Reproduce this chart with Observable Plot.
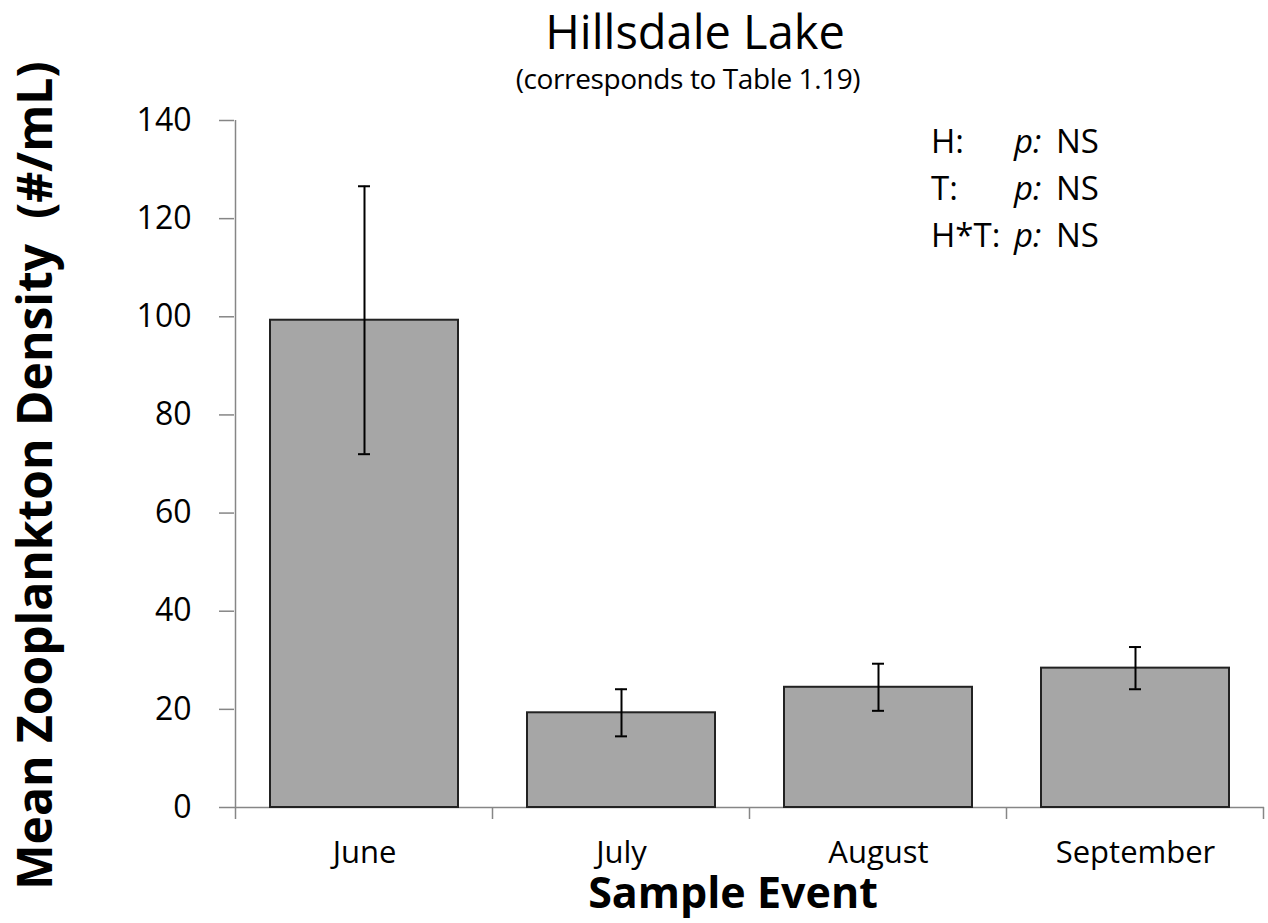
<!DOCTYPE html>
<html><head><meta charset="utf-8">
<script src="https://cdn.jsdelivr.net/npm/d3@7"></script>
<script src="https://cdn.jsdelivr.net/npm/@observablehq/plot@0.6"></script>
<style>
body{margin:0;background:#fff;}
#wrap{position:relative;width:1268px;height:923px;font-family:"Open Sans",sans-serif;color:#000;}
.ttl{position:absolute;left:0;width:1268px;text-align:center;white-space:pre;}
</style></head><body>
<div id="wrap">
<div id="chart"></div>
<div class="ttl" id="t1" style="top:8px;font-size:47px;line-height:47px;padding-left:122px;box-sizing:border-box;"></div>
<div class="ttl" id="t2" style="top:64px;font-size:28px;line-height:28px;padding-left:108px;box-sizing:border-box;letter-spacing:-0.4px;"></div>
</div>
<script>
const categories = ["June", "July", "August", "September"];
const means = [99.3, 19.3, 24.5, 28.4];
const stdErrors = [27.3, 4.8, 4.8, 4.3];
const yTicks = [0, 20, 40, 60, 80, 100, 120, 140];
const titleText = "Hillsdale Lake";
const subtitleText = "(corresponds to Table 1.19)";
const yLabel = "Mean Zooplankton Density  (#/mL)";
const xLabel = "Sample Event";
const statsLabels = ["H:", "T:", "H*T:"];
const statsValues = ["NS", "NS", "NS"];

const data = categories.map((c, i) => ({event: c, mean: means[i], lo: means[i] - stdErrors[i], hi: means[i] + stdErrors[i]}));

document.getElementById("t1").textContent = titleText;
document.getElementById("t2").textContent = subtitleText;

const plot = Plot.plot({
  width: 1268, height: 923,
  marginTop: 120, marginBottom: 116, marginLeft: 234, marginRight: 4,
  style: {fontFamily: '"Open Sans", sans-serif', fontSize: "32px", color: "#000", background: "white"},
  x: {domain: categories, paddingInner: 0.27, paddingOuter: 0.135, label: null},
  y: {domain: [0, 140], label: null},
  marks: [
    Plot.axisY({ticks: yTicks, tickSize: 15, tickPadding: 28, stroke: "#868686", strokeWidth: 1.5, label: null}),
    Plot.axisX({tickSize: 0, tickPadding: 33, label: null, fontSize: 31}),
    Plot.ruleY([0], {stroke: "#868686", strokeWidth: 1.5}),
    Plot.barY(data, {x: "event", y: "mean", fill: "#a6a6a6", stroke: "#222", strokeWidth: 2}),
    Plot.ruleX(data, {x: "event", y1: "lo", y2: "hi", stroke: "#000", strokeWidth: 2}),
    Plot.tickY(data, {x: "event", y: "hi", insetLeft: 88, insetRight: 88, stroke: "#000", strokeWidth: 2}),
    Plot.tickY(data, {x: "event", y: "lo", insetLeft: 88, insetRight: 88, stroke: "#000", strokeWidth: 2})
  ]
});
document.getElementById("chart").appendChild(plot);

const svg = d3.select(plot);
const xs = plot.scale("x"), ys = plot.scale("y");
const y0 = ys.apply(0), yTop = ys.apply(140);
const half = (xs.step - xs.bandwidth) / 2;
const bounds = categories.map(c => xs.apply(c) - half).concat([xs.apply(categories[categories.length - 1]) + xs.bandwidth + half]);
const g = svg.append("g");
g.selectAll("line.bt").data(bounds).join("line").attr("class", "bt")
  .attr("x1", d => d).attr("x2", d => d).attr("y1", y0).attr("y2", y0 + 12)
  .attr("stroke", "#868686").attr("stroke-width", 1.5);
g.append("line").attr("x1", bounds[0]).attr("x2", bounds[0]).attr("y1", yTop).attr("y2", y0)
  .attr("stroke", "#868686").attr("stroke-width", 1.5);

svg.append("text")
  .attr("transform", `translate(52,${(yTop + y0) / 2 + 12}) rotate(-90)`)
  .attr("text-anchor", "middle")
  .style("font-family", '"Open Sans", sans-serif').style("font-size", "48px").style("font-weight", "bold")
  .style("white-space", "pre").attr("fill", "#000")
  .text(yLabel);

svg.append("text")
  .attr("x", 733).attr("y", 908).attr("text-anchor", "middle")
  .style("font-family", '"Open Sans", sans-serif').style("font-size", "43px").style("font-weight", "bold")
  .attr("fill", "#000").text(xLabel);

const st = svg.append("g").style("font-family", '"Open Sans", sans-serif').style("font-size", "33px")
  .attr("fill", "#000").attr("text-anchor", "start");
statsLabels.forEach((lab, i) => {
  const t = st.append("text").attr("y", 153 + i * 47).attr("text-anchor", "start");
  t.append("tspan").attr("x", 931).text(lab);
  t.append("tspan").attr("x", 1014).style("font-style", "italic").text("p:");
  t.append("tspan").attr("x", 1056).text(statsValues[i]);
});
</script>
</body></html>
